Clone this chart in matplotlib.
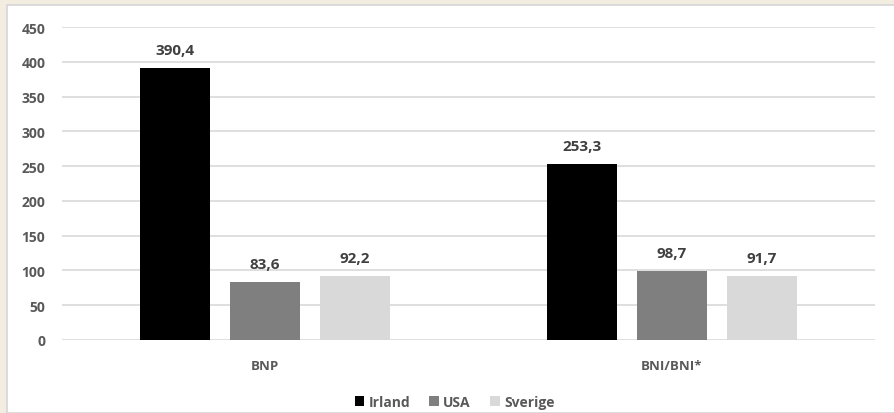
import numpy as np
import matplotlib.pyplot as plt
from matplotlib.patches import Rectangle

plt.rcParams['font.family'] = ['Open Sans', 'DejaVu Sans']
plt.rcParams['font.weight'] = 'bold'

# data
categories = ['BNP', 'BNI/BNI*']
series = ['Irland', 'USA', 'Sverige']
values = {
    'Irland': [390.4, 253.3],
    'USA': [83.6, 98.7],
    'Sverige': [92.2, 91.7],
}
colors = ['#000000', '#7f7f7f', '#d9d9d9']
yticks = [0, 50, 100, 150, 200, 250, 300, 350, 400, 450]

W, H = 894, 414
txt = '#595959'
fig = plt.figure(figsize=(W / 100, H / 100), dpi=100, facecolor='#f3ece1')
# white panel with thin grey border (left and top beige strip)
fig.patches.append(Rectangle((6.5 / W, 0), 1, 1 - 5.5 / H, transform=fig.transFigure,
                             facecolor='white', edgecolor='#d6d6d6', lw=1.2, zorder=-10))

ax = fig.add_axes([62 / W, 1 - 341 / H, (875 - 62) / W, (341 - 28) / H])
ax.set_facecolor('none')

x = np.arange(len(categories))
bw = 0.172
step = 0.221
for i, (name, c) in enumerate(zip(series, colors)):
    pos = x + (i - 1) * step
    bars = ax.bar(pos, values[name], width=bw, color=c, label=name, zorder=3)
    for b, v in zip(bars, values[name]):
        ax.annotate(f'{v:.1f}'.replace('.', ','), (b.get_x() + b.get_width() / 2, v),
                    xytext=(0, 8), textcoords='offset points', ha='center', va='bottom',
                    fontsize=11, fontweight='bold', color='#404040')

ax.set_xlim(-0.5, 1.5)
ax.set_ylim(0, 450)
ax.set_yticks(yticks)
ax.set_xticks(x)
ax.set_xticklabels(categories, fontsize=9.5, color=txt)
ax.tick_params(axis='y', length=0, pad=12, labelsize=10, labelcolor=txt)
ax.tick_params(axis='x', length=0, pad=14)
ax.grid(axis='y', color='#d9d9d9', lw=1.2, zorder=0)
for s in ax.spines.values():
    s.set_visible(False)

leg = ax.legend(loc='center', bbox_to_anchor=(0.483, (341 - 403) / 313), ncol=3, frameon=False,
                handlelength=0.7, handleheight=0.7, handletextpad=0.3, columnspacing=1.4,
                prop={'size': 10, 'weight': 'bold'})
for t in leg.get_texts():
    t.set_color(txt)

fig.savefig('out.png', dpi=100, facecolor=fig.get_facecolor())
